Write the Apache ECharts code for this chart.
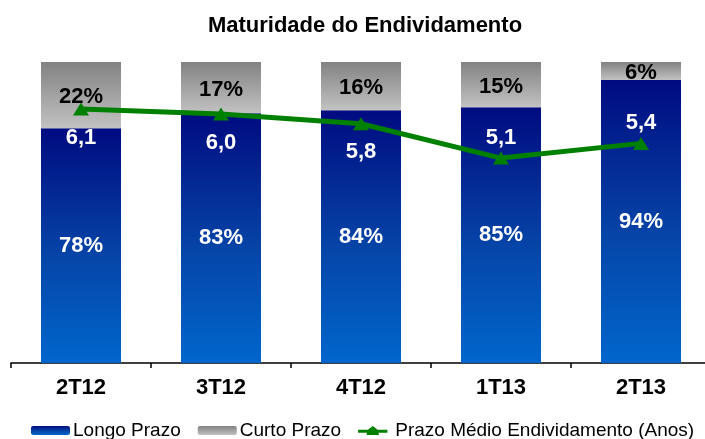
<!DOCTYPE html>
<html>
<head>
<meta charset="utf-8">
<script src="https://cdn.jsdelivr.net/npm/echarts@6/dist/echarts.min.js"></script>
<style>
	html,body{margin:0;padding:0;background:#fff;overflow:hidden;}
	/* o eixo do original passa um pouco da borda direita */
	#chart{width:712px;height:439px;}
</style>
</head>
<body>
<div id="chart"></div>
<script>
	// dados
	var periodos = ['2T12', '3T12', '4T12', '1T13', '2T13'];
	var longoPrazo = [78, 83, 84, 85, 94];
	var curtoPrazo = [22, 17, 16, 15, 6];
	var prazoMedio = [6.1, 6.0, 5.8, 5.1, 5.4];
	// rotulo da linha: abaixo nos tres primeiros, acima nos dois ultimos
	var posRotulo = ['bottom', 'bottom', 'bottom', 'top', 'top'];

	var fonte = 'Arial, "Liberation Sans", sans-serif';

	var dadosLinha = [];
	for (var i = 0; i < prazoMedio.length; i++) {
		dadosLinha.push({
			value: prazoMedio[i],
			label: {
				position: posRotulo[i],
				distance: posRotulo[i] == 'bottom' ? 11 : 3
			}
		});
	}

	var myChart = echarts.init(document.getElementById('chart'));
	var option = {
		animation: false,
		textStyle: { fontFamily: fonte },
		title: {
			text: 'Maturidade do Endividamento',
			left: 360,
			textAlign: 'center',
			top: 10,
			textStyle: {
				fontFamily: fonte,
				fontSize: 22,
				fontWeight: 'bold',
				color: '#000'
			}
		},
		legend: {
			left: 31,
			top: 421,
			padding: 0,
			itemWidth: 39,
			itemHeight: 9,
			itemGap: 17,
			textStyle: {
				fontFamily: fonte,
				fontSize: 19,
				color: '#000',
				padding: [0, 0, 0, -2]
			},
			data: [
				'Longo Prazo',
				'Curto Prazo',
				{
					name: 'Prazo Médio Endividamento (Anos)',
					icon: 'path://M0,5L13,5L19.5,0L26,5L39,5L39,9L27,9L28,12L11,12L12,9L0,9Z'
				}
			]
		},
		grid: {
			left: 11,
			right: 1,
			top: 62,
			bottom: 76,
			containLabel: false
		},
		xAxis: {
			type: 'category',
			data: periodos,
			axisLine: { lineStyle: { color: '#000', width: 1.5 } },
			axisTick: { show: true, length: 5, lineStyle: { color: '#000', width: 1.5 } },
			axisLabel: {
				margin: 14,
				fontFamily: fonte,
				fontSize: 22,
				fontWeight: 'bold',
				color: '#000'
			}
		},
		yAxis: [
			{ type: 'value', min: 0, max: 100, show: false, splitLine: { show: false } },
			{ type: 'value', min: 0.92, max: 7.06, show: false, splitLine: { show: false } }
		],
		series: [
			{
				name: 'Longo Prazo',
				type: 'bar',
				stack: 'total',
				barWidth: 80,
				data: longoPrazo,
				itemStyle: {
					color: new echarts.graphic.LinearGradient(0, 0, 0, 1, [
						{ offset: 0, color: '#000b80' },
						{ offset: 0.55, color: '#0645a8' },
						{ offset: 1, color: '#0066cc' }
					])
				},
				label: {
					show: true,
					position: 'inside',
					formatter: '{c}%',
					fontFamily: fonte,
					fontSize: 22,
					fontWeight: 'bold',
					color: '#fff'
				}
			},
			{
				name: 'Curto Prazo',
				type: 'bar',
				stack: 'total',
				barWidth: 80,
				data: curtoPrazo,
				itemStyle: {
					color: new echarts.graphic.LinearGradient(0, 0, 0, 1, [
						{ offset: 0, color: '#828282' },
						{ offset: 1, color: '#c2c2c2' }
					])
				},
				label: {
					show: true,
					position: 'inside',
					offset: [0, 2],
					formatter: '{c}%',
					fontFamily: fonte,
					fontSize: 22,
					fontWeight: 'bold',
					color: '#000'
				}
			},
			{
				name: 'Prazo Médio Endividamento (Anos)',
				type: 'line',
				yAxisIndex: 1,
				data: dadosLinha,
				symbol: 'triangle',
				symbolSize: [16, 13],
				lineStyle: { color: '#008000', width: 5 },
				itemStyle: { color: '#008000' },
				z: 5,
				label: {
					show: true,
					fontFamily: fonte,
					fontSize: 22,
					fontWeight: 'bold',
					color: '#fff',
					formatter: function (p) {
						return p.value.toFixed(1).replace('.', ',');
					}
				}
			}
		]
	};
	myChart.setOption(option);
</script>
</body>
</html>
